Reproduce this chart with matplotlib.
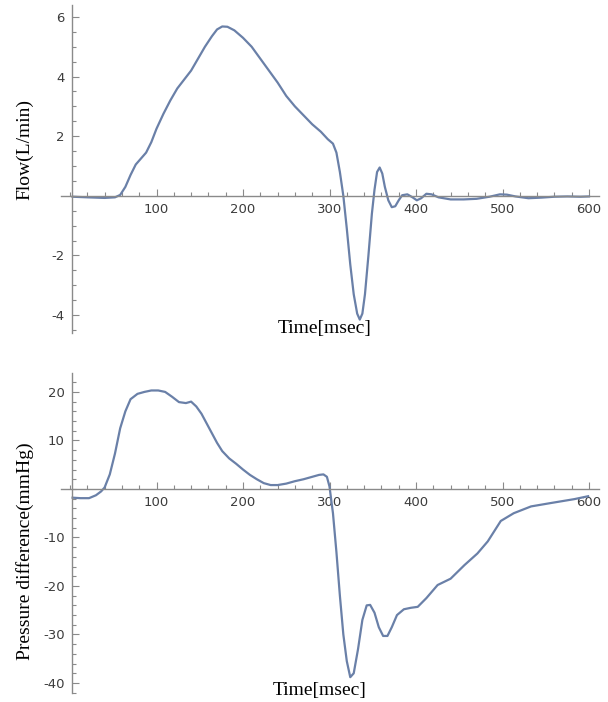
import numpy as np
import matplotlib.pyplot as plt
from matplotlib.ticker import MultipleLocator, FixedLocator

plt.rcParams['axes.unicode_minus'] = False

# flow curve (time in msec, flow in L/min)
flow_t = [3, 20, 40, 52, 58, 64, 70, 76, 82, 88, 94, 100, 108, 116, 124, 132,
          140, 148, 156, 164, 170, 176, 182, 190, 200, 210, 220, 230, 240, 250,
          260, 270, 280, 290, 298, 304, 308, 312, 316, 320, 324, 328, 332, 335,
          338, 341, 345, 349, 352, 355, 358, 361, 364, 368, 372, 376, 380, 384,
          390, 396, 401, 406, 412, 418, 426, 440, 455, 470, 485, 497, 505, 515,
          530, 545, 560, 575, 590, 600]
flow_v = [-0.03, -0.05, -0.07, -0.05, 0.03, 0.3, 0.7, 1.05, 1.25, 1.45, 1.8,
          2.25, 2.75, 3.2, 3.6, 3.9, 4.2, 4.6, 5.0, 5.35, 5.58, 5.68, 5.67, 5.55,
          5.3, 5.0, 4.6, 4.2, 3.8, 3.35, 3.0, 2.7, 2.4, 2.15, 1.9, 1.75, 1.45,
          0.8, 0.0, -1.1, -2.3, -3.3, -3.95, -4.15, -3.95, -3.3, -2.0, -0.6, 0.2,
          0.8, 0.95, 0.75, 0.3, -0.15, -0.38, -0.35, -0.15, 0.02, 0.05, -0.05,
          -0.15, -0.08, 0.07, 0.05, -0.05, -0.12, -0.12, -0.1, -0.03, 0.05, 0.04,
          -0.02, -0.08, -0.06, -0.03, -0.02, -0.03, -0.02]

# pressure difference curve (time in msec, mmHg)
pres_t = [3, 12, 22, 30, 36, 40, 46, 52, 58, 64, 70, 78, 86, 94, 102, 110, 118,
          126, 134, 140, 146, 152, 158, 164, 170, 176, 184, 192, 200, 208, 216,
          224, 232, 240, 250, 260, 270, 280, 288, 293, 297, 300, 304, 308, 312,
          316, 320, 324, 328, 333, 338, 343, 347, 352, 357, 362, 367, 372, 378,
          386, 394, 402, 412, 425, 440, 456, 471, 483, 498, 513, 533, 556, 583,
          599]
pres_v = [-1.8, -1.9, -1.9, -1.3, -0.5, 0.3, 3.0, 7.3, 12.5, 16.0, 18.5, 19.6,
          20.0, 20.3, 20.3, 20.0, 19.0, 17.9, 17.7, 18.0, 17.0, 15.5, 13.5, 11.5,
          9.5, 7.8, 6.3, 5.2, 4.0, 2.9, 2.0, 1.2, 0.8, 0.8, 1.1, 1.6, 2.0, 2.5,
          2.9, 3.0, 2.5, 0.5, -5.0, -13.0, -22.0, -30.0, -35.5, -38.8, -38.0,
          -33.0, -27.0, -24.0, -23.9, -25.5, -28.5, -30.3, -30.3, -28.5, -26.0,
          -24.8, -24.5, -24.3, -22.5, -19.8, -18.5, -15.7, -13.3, -10.8, -6.6,
          -5.0, -3.6, -2.9, -2.1, -1.5]

line_color = '#6a80a8'
axis_color = '#8a8a8a'
label_color = '#3c3c3c'

W, H = 608, 702
fig = plt.figure(figsize=(W / 100, H / 100), dpi=100)

x_left, x_right = -10, 612
ax_left = (70 - 10 * 0.865) / W
ax_width = (622 * 0.865) / W


def style_axis(ax, ylim, yminor, yticks):
    ax.set_xlim(x_left, x_right)
    ax.set_ylim(*ylim)
    for s in ['top', 'right']:
        ax.spines[s].set_visible(False)
    ax.spines['left'].set_position(('data', 2))
    ax.spines['bottom'].set_position(('data', 0))
    for s in ['left', 'bottom']:
        ax.spines[s].set_color(axis_color)
        ax.spines[s].set_linewidth(1.0)
    ax.xaxis.set_major_locator(FixedLocator([100, 200, 300, 400, 500, 600]))
    ax.xaxis.set_minor_locator(MultipleLocator(20))
    ax.yaxis.set_major_locator(FixedLocator(yticks))
    ax.yaxis.set_minor_locator(MultipleLocator(yminor))
    ax.tick_params(which='both', direction='in', color=axis_color, width=0.8)
    ax.tick_params(which='major', length=5, pad=5, labelsize=9.5,
                   labelcolor=label_color)
    ax.tick_params(which='minor', length=3)
    ax.patch.set_alpha(0)


# top panel: flow
ax1 = fig.add_axes([ax_left, 1 - 333 / H, ax_width, 328 / H])
ax1.plot(flow_t, flow_v, color=line_color, linewidth=1.6)
style_axis(ax1, (-4.60, 6.40), 0.5, [-4, -2, 2, 4, 6])

# bottom panel: pressure difference
ax2 = fig.add_axes([ax_left, 1 - 693 / H, ax_width, 320 / H])
ax2.plot(pres_t, pres_v, color=line_color, linewidth=1.6)
style_axis(ax2, (-42.06, 23.9), 2, [-40, -30, -20, -10, 10, 20])

serif = 'Liberation Serif'
fig.text(25 / W, 1 - 150 / H, 'Flow(L/min)', rotation=90, ha='center',
         va='center', fontsize=14, family=serif)
fig.text(325 / W, 1 - 328 / H, 'Time[msec]', ha='center', va='center',
         fontsize=14, family=serif)
fig.text(25 / W, 1 - 551 / H, 'Pressure difference(mmHg)', rotation=90,
         ha='center', va='center', fontsize=14, family=serif)
fig.text(320 / W, 1 - 690 / H, 'Time[msec]', ha='center', va='center',
         fontsize=14, family=serif)

fig.savefig('out.png', dpi=100)
